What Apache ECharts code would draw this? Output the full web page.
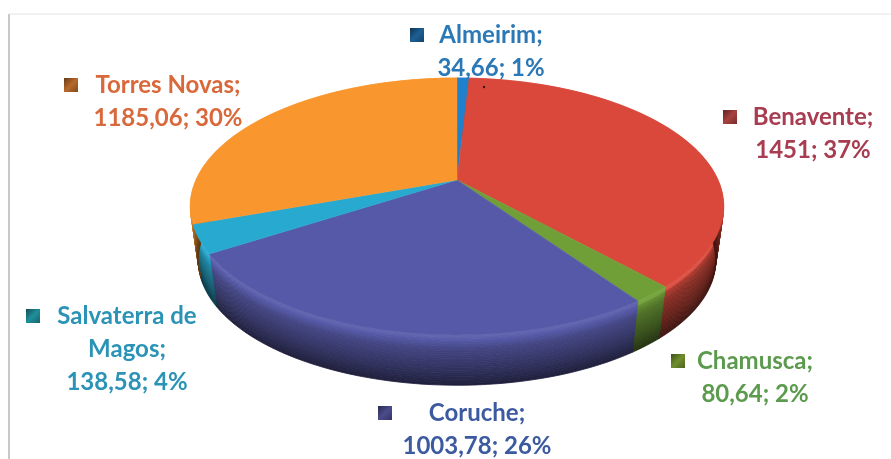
<!DOCTYPE html>
<html>
<head>
<meta charset="utf-8">
<script src="https://cdn.jsdelivr.net/npm/echarts@6/dist/echarts.min.js"></script>
<style>
  html, body { margin: 0; padding: 0; background: #fff; }
  #main { width: 891px; height: 459px; }
</style>
</head>
<body>
<div id="main"></div>
<script>
const categories = ['Almeirim', 'Benavente', 'Chamusca', 'Coruche', 'Salvaterra de\nMagos', 'Torres Novas'];
const values = [34.66, 1451, 80.64, 1003.78, 138.58, 1185.06];
const percents = [1, 37, 2, 26, 4, 30];

const sliceColors = ['#1f80cc', '#d9483a', '#6f9f36', '#5659a8', '#27a9d0', '#f9962e'];
const wallTone = [1, 0.8, 0.88, 0.98, 0.95, 1];
const textColors = ['#2b78b6', '#a83c50', '#5c9a4e', '#3c5a9f', '#2a93b6', '#d9683a'];
const markerColors = ['#1d5f94', '#a8413f', '#6f8f2e', '#4a4c8c', '#1f8f9c', '#b8692c'];

// label centre x, first line y, marker x
const labelPos = [
  [491, 36, 417],
  [813, 118, 730],
  [755, 362, 678],
  [477, 414, 385],
  [127, 317, 33],
  [168, 86, 71]
];

// pie seen in perspective, fitted on the picture
const cx = 457, cy = 180, a = 261, b = 123, k = 0.206;
const wallH = 55, wallShrink = 0.03;
const total = values.reduce((s, v) => s + v, 0);

function project(deg, t) {
  const r = deg * Math.PI / 180;
  const u = Math.sin(r), v = -Math.cos(r);
  const w = 1 - k * v;
  const s = 1 - wallShrink * t;
  return [cx + a * s * u / w, cy + wallH * t + b * s * v / w];
}

function arc(from, to, t) {
  const pts = [];
  const n = Math.max(2, Math.ceil((to - from) / 2));
  for (let i = 0; i <= n; i++) pts.push(project(from + (to - from) * i / n, t));
  return pts;
}

function sliceAngles(idx) {
  let sum = 0;
  for (let i = 0; i < idx; i++) sum += values[i];
  return [sum / total * 360, (sum + values[idx]) / total * 360];
}

function shade(hex, f) {
  const c = [1, 3, 5].map(i => parseInt(hex.substr(i, 2), 16));
  const out = c.map(x => Math.round(f <= 1 ? x * f : x + (255 - x) * (f - 1)));
  return 'rgb(' + out.join(',') + ')';
}

// brightness down the wall, rim to floor
const wallStops = [1.1, 0.98, 0.8, 0.72, 0.64, 0.56, 0.46, 0.36];
const wallBandCount = 28;

function wallBrightness(t) {
  const p = t * (wallStops.length - 1);
  const i = Math.min(Math.floor(p), wallStops.length - 2);
  return wallStops[i] + (wallStops[i + 1] - wallStops[i]) * (p - i);
}

function renderWall(params, api) {
  const idx = params.dataIndex;
  const [from, to] = sliceAngles(idx);
  const children = [];
  for (let j = 0; j < wallBandCount; j++) {
    const t0 = j / wallBandCount, t1 = (j + 1) / wallBandCount;
    const pts = arc(from, to, t0).concat(arc(from, to, t1).reverse());
    const col = shade(sliceColors[idx], wallBrightness((t0 + t1) / 2) * (j > 2 ? wallTone[idx] : 1));
    children.push({
      type: 'polygon',
      shape: { points: pts },
      style: { fill: col, stroke: col, lineWidth: 0.8 }
    });
  }
  return { type: 'group', children: children };
}

function renderTop(params, api) {
  const idx = params.dataIndex;
  const [from, to] = sliceAngles(idx);
  const pts = [[cx, cy]].concat(arc(from, to, 0));
  return {
    type: 'polygon',
    shape: { points: pts },
    style: { fill: sliceColors[idx], stroke: sliceColors[idx], lineWidth: 0.5 }
  };
}

function fmt(v) {
  return String(v).replace('.', ',');
}

const labelGraphics = [];
categories.forEach((name, i) => {
  const [x, y, mx] = labelPos[i];
  labelGraphics.push({
    type: 'text',
    x: x,
    y: y - 17,
    z: 10,
    style: {
      text: name + ';\n' + fmt(values[i]) + '; ' + percents[i] + '%',
      fill: textColors[i],
      font: 'bold 24px Lato, "Noto Sans", sans-serif',
      lineHeight: 33,
      align: 'center',
      verticalAlign: 'top'
    }
  });
  labelGraphics.push({
    type: 'rect',
    shape: { x: mx - 7, y: y - 8, width: 14, height: 14 },
    style: {
      fill: {
        type: 'linear', x: 0, y: 0, x2: 1, y2: 1,
        colorStops: [
          { offset: 0, color: shade(markerColors[i], 0.55) },
          { offset: 0.5, color: markerColors[i] },
          { offset: 1, color: shade(markerColors[i], 0.7) }
        ]
      }
    }
  });
});

// scanned page frame and the speck on the scan
const frame = [
  { type: 'line', shape: { x1: 9, y1: 14, x2: 891, y2: 14 }, style: { stroke: '#e4e4e4', lineWidth: 1 } },
  { type: 'line', shape: { x1: 9, y1: 14, x2: 9, y2: 459 }, style: { stroke: '#c9c9c9', lineWidth: 2 } },
  { type: 'circle', z: 10, shape: { cx: 484, cy: 87, r: 1.2 }, style: { fill: '#3a1a1a' } }
];

const chart = echarts.init(document.getElementById('main'));
const rows = values.map((v, i) => ({ name: categories[i], value: [v] }));
chart.setOption({
  backgroundColor: '#fff',
  animation: false,
  graphic: frame.concat(labelGraphics),
  series: [
    { type: 'custom', coordinateSystem: 'none', renderItem: renderWall, data: rows, z: 1, silent: true },
    { type: 'custom', coordinateSystem: 'none', renderItem: renderTop, data: rows, z: 2, silent: true }
  ]
});
</script>
</body>
</html>
